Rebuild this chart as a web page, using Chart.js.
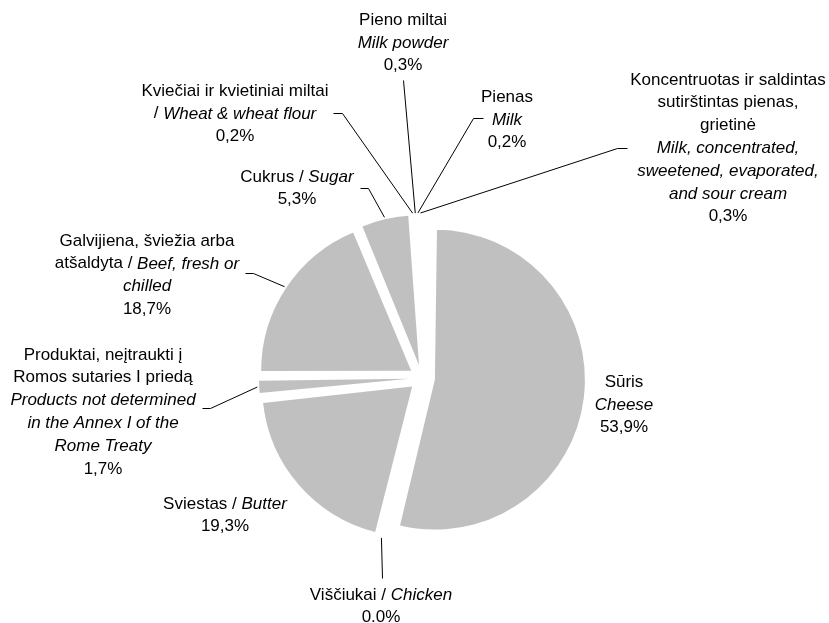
<!DOCTYPE html>
<html>
<head>
<meta charset="utf-8">
<script src="https://cdn.jsdelivr.net/npm/chart.js@4.4.1/dist/chart.umd.min.js"></script>
<style>
  html, body { margin: 0; padding: 0; background: #fff; }
  #wrap { width: 829px; height: 623px; position: relative; }
</style>
</head>
<body>
<div id="wrap"><canvas id="pie"></canvas></div>
<script>
// Slices, clockwise from 12 o'clock
const categories = [
  'Sūris / Cheese',
  'Viščiukai / Chicken',
  'Sviestas / Butter',
  'Produktai, neįtraukti į Romos sutaries I priedą / Products not determined in the Annex I of the Rome Treaty',
  'Galvijiena, šviežia arba atšaldyta / Beef, fresh or chilled',
  'Cukrus / Sugar',
  'Kviečiai ir kvietiniai miltai / Wheat & wheat flour',
  'Pieno miltai / Milk powder',
  'Pienas / Milk',
  'Koncentruotas ir saldintas sutirštintas pienas, grietinė / Milk, concentrated, sweetened, evaporated, and sour cream'
];
const shares = [53.9, 0.0, 19.3, 1.7, 18.7, 5.3, 0.2, 0.3, 0.2, 0.3];
const decimalMarks = [',', '.', ',', ',', ',', ',', ',', ',', ',', ','];

// Label text lines; [text, true] marks an italic run
const labelLines = [
  [[['Sūris']], [['Cheese', true]]],
  [[['Viščiukai / '], ['Chicken', true]]],
  [[['Sviestas / '], ['Butter', true]]],
  [[['Produktai, neįtraukti į']], [['Romos sutaries I priedą']], [['Products not determined', true]], [['in the Annex I of the', true]], [['Rome Treaty', true]]],
  [[['Galvijiena, šviežia arba']], [['atšaldyta / '], ['Beef, fresh or', true]], [['chilled', true]]],
  [[['Cukrus / '], ['Sugar', true]]],
  [[['Kviečiai ir kvietiniai miltai']], [['/ '], ['Wheat & wheat flour', true]]],
  [[['Pieno miltai']], [['Milk powder', true]]],
  [[['Pienas']], [['Milk', true]]],
  [[['Koncentruotas ir saldintas']], [['sutirštintas pienas,']], [['grietinė']], [['Milk, concentrated,', true]], [['sweetened, evaporated,', true]], [['and sour cream', true]]]
];

// Layout: label block centre x and first line y, leader line waypoints (label side first)
const labelAnchor = [[624, 382], [381, 595], [225, 504], [103, 355], [147, 241], [297, 177], [235, 91], [403, 20], [507, 97], [728, 80]];
const leaderPath = [
  null,
  [[382, 578]],
  null,
  [[202, 408], [210, 408]],
  [[245, 273], [253, 273]],
  [[360, 188], [368, 188]],
  [[333, 113], [342, 113]],
  [[403, 80]],
  [[483, 118], [473, 118]],
  [[627, 148], [617, 148]]
];

const RADIUS = 150;
const EXPLODE = 52;          // arcs are shifted by offset / 4 when drawn
const LINE_H = 22.8;
const FONT = '"Liberation Sans", Arial, sans-serif';
const FONT_SIZE = 17;

function pctText(i) {
  return shares[i].toFixed(1).replace('.', decimalMarks[i]) + '%';
}

// keep every exploded slice at the same radius
const evenRadius = {
  id: 'evenRadius',
  beforeDatasetsDraw(chart) {
    chart.getDatasetMeta(0).data.forEach(a => {
      const shift = (a.options.offset || 0) / 4;
      const fix = 1 - Math.sin(Math.min(Math.PI, a.circumference || 0));
      a.outerRadius = RADIUS - shift * fix;
    });
  }
};

const sliceLabels = {
  id: 'sliceLabels',
  afterDraw(chart) {
    const ctx = chart.ctx;
    const arcs = chart.getDatasetMeta(0).data;
    ctx.save();
    ctx.strokeStyle = '#000';
    ctx.lineWidth = 1;
    arcs.forEach((a, i) => {
      const pts = leaderPath[i];
      if (!pts) return;
      const mid = (a.startAngle + a.endAngle) / 2;
      const r = RADIUS + (a.options.offset || 0) / 4 + 2;
      const ax = a.x + Math.cos(mid) * r;
      const ay = a.y + Math.sin(mid) * r;
      ctx.beginPath();
      ctx.moveTo(pts[0][0] + 0.5, pts[0][1] + 0.5);
      for (let k = 1; k < pts.length; k++) ctx.lineTo(pts[k][0] + 0.5, pts[k][1] + 0.5);
      ctx.lineTo(ax, ay);
      ctx.stroke();
    });

    ctx.fillStyle = '#000';
    ctx.textBaseline = 'middle';
    ctx.textAlign = 'left';
    labelLines.forEach((lines, i) => {
      const all = lines.concat([[[pctText(i)]]]);
      const [cx, y0] = labelAnchor[i];
      all.forEach((runs, li) => {
        let w = 0;
        const widths = runs.map(([t, it]) => {
          ctx.font = (it ? 'italic ' : '') + FONT_SIZE + 'px ' + FONT;
          const m = ctx.measureText(t).width;
          w += m;
          return m;
        });
        let x = cx - w / 2;
        const y = y0 + li * LINE_H;
        runs.forEach(([t, it], k) => {
          ctx.font = (it ? 'italic ' : '') + FONT_SIZE + 'px ' + FONT;
          ctx.fillText(t, x, y);
          x += widths[k];
        });
      });
    });
    ctx.restore();
  }
};

new Chart(document.getElementById('pie'), {
  type: 'pie',
  data: {
    labels: categories,
    datasets: [{
      data: shares,
      backgroundColor: '#C0C0C0',
      borderWidth: 0,
      offset: EXPLODE
    }]
  },
  options: {
    responsive: true,
    maintainAspectRatio: false,
    animation: false,
    events: [],
    radius: RADIUS,
    rotation: 0,
    layout: { padding: { left: 15, right: 0, top: 133, bottom: 0 } },
    plugins: {
      legend: { display: false },
      tooltip: { enabled: false }
    }
  },
  plugins: [evenRadius, sliceLabels]
});
</script>
</body>
</html>
